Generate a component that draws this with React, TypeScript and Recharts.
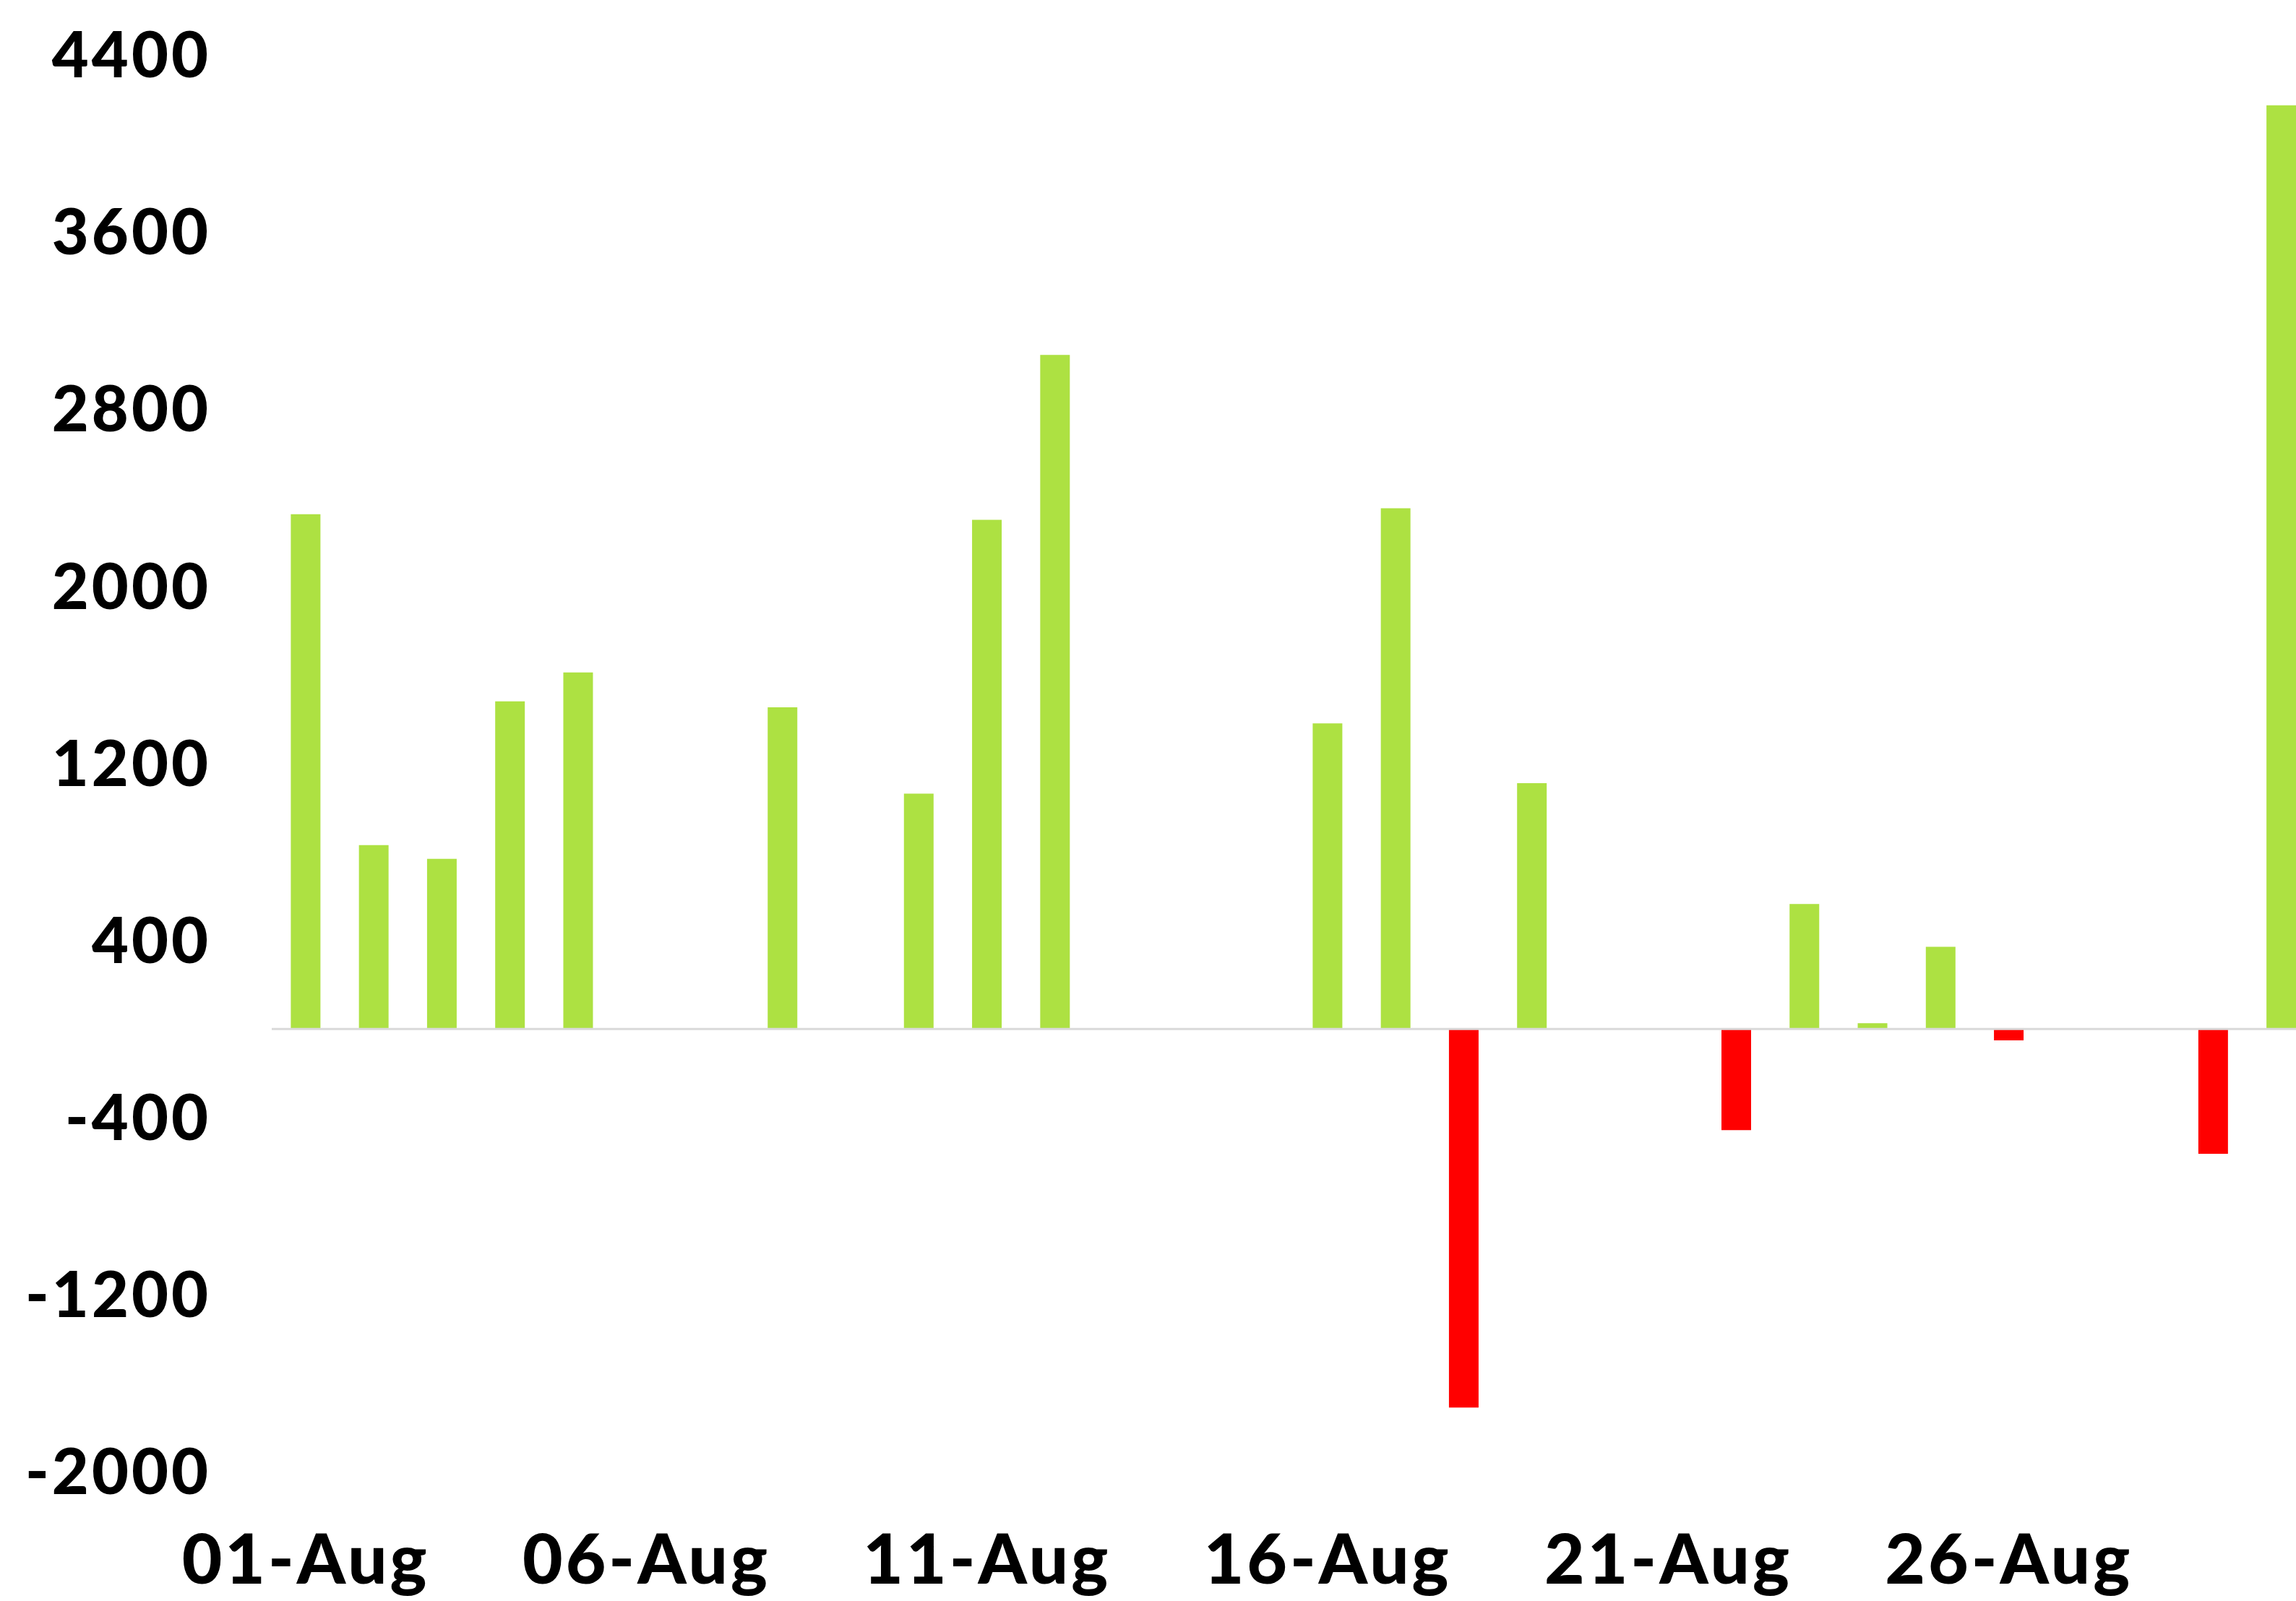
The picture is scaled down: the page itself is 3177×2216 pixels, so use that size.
import { Bar, BarChart, Cell, ReferenceLine, XAxis, YAxis } from "recharts";

const days = [
  "01-Aug", "02-Aug", "03-Aug", "04-Aug", "05-Aug", "06-Aug", "07-Aug", "08-Aug", "09-Aug", "10-Aug",
  "11-Aug", "12-Aug", "13-Aug", "14-Aug", "15-Aug", "16-Aug", "17-Aug", "18-Aug", "19-Aug", "20-Aug",
  "21-Aug", "22-Aug", "23-Aug", "24-Aug", "25-Aug", "26-Aug", "27-Aug", "28-Aug", "29-Aug", "30-Aug"
];

const netValues: (number | null)[] = [
  2325, 830, 768, 1480, 1610, null, null, 1453, null, 1063,
  2300, 3045, null, null, null, 1380, 2352, -1710, 1110, null,
  null, -457, 564, 26, 371, -52, null, null, -564, 4172
];

const yTicks = [4400, 3600, 2800, 2000, 1200, 400, -400, -1200, -2000];

const GREEN = "#ade142";
const RED = "#ff0000";

const chartData = days.map((day, i) => ({ day, value: netValues[i] }));

const fontFamily = "Lato, 'DejaVu Sans', sans-serif";

const yTickStyle = {
  fontFamily,
  fontWeight: 900,
  fontSize: 88,
  letterSpacing: 4,
  fill: "#000"
};

const xTickStyle = {
  fontFamily,
  fontWeight: 900,
  fontSize: 96,
  letterSpacing: 4,
  fill: "#000"
};

export default function App() {
  return (
    <div
      style={{
        position: "fixed",
        left: 0,
        top: 0,
        width: 3177,
        height: 2216,
        overflow: "hidden",
        background: "#fff"
      }}
    >
      <BarChart
        width={3204}
        height={2216}
        data={chartData}
        margin={{ top: 76, right: 0, left: 0, bottom: 0 }}
        barCategoryGap="28%"
      >
        <XAxis
          dataKey="day"
          interval={4}
          axisLine={false}
          tickLine={false}
          tickSize={0}
          tickMargin={87}
          height={179}
          tick={xTickStyle}
        />
        <YAxis
          domain={[-2000, 4400]}
          ticks={yTicks}
          interval={0}
          axisLine={false}
          tickLine={false}
          tickSize={0}
          tickMargin={84}
          width={376}
          tick={yTickStyle}
        />
        <Bar dataKey="value" isAnimationActive={false}>
          {chartData.map((d) => (
            <Cell key={d.day} fill={d.value !== null && d.value < 0 ? RED : GREEN} />
          ))}
        </Bar>
        <ReferenceLine y={0} stroke="#d9d9d9" strokeWidth={3} />
      </BarChart>
    </div>
  );
}
